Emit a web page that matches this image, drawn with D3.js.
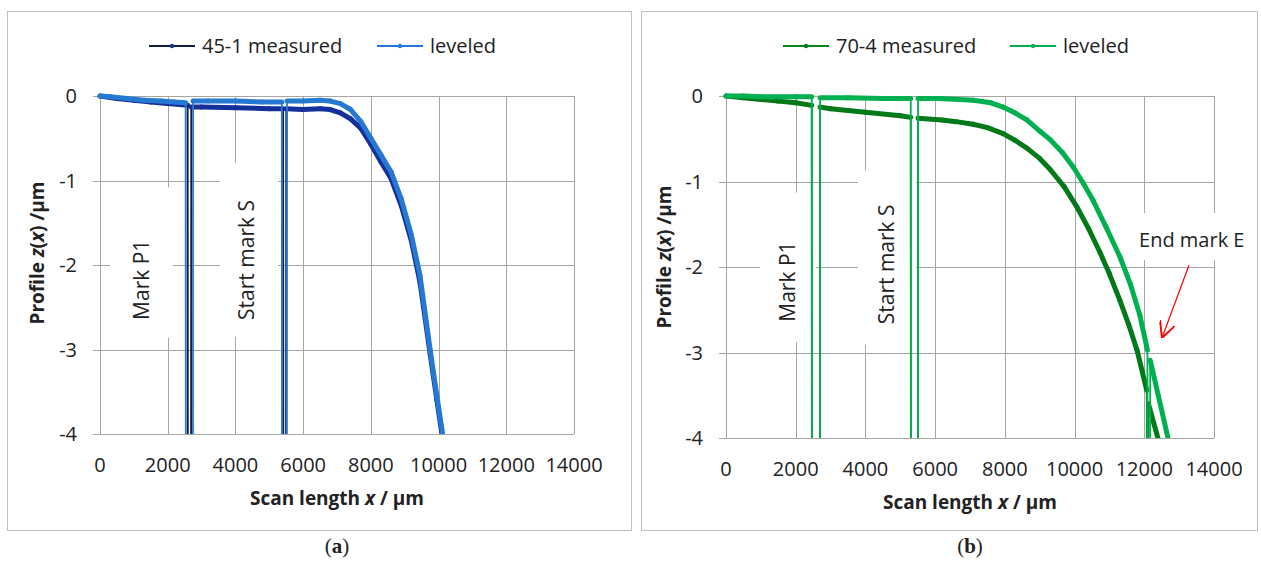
<!DOCTYPE html>
<html lang="en">
<head>
  <meta charset="UTF-8">
  <title>Profile scans</title>
  <script src="https://cdn.jsdelivr.net/npm/d3@7"></script>
  <style>
    body { margin: 0; background: #fff; }
    svg text { font-family: "Open Sans", sans-serif; fill: #222; }
  </style>
</head>
<body>
<script>
// axis ticks
const xTicks = [0, 2000, 4000, 6000, 8000, 10000, 12000, 14000];
const yTicks = [0, -1, -2, -3, -4];

// panel (a): sample 45-1, [x in um, z in um]
const measured451 = [[0,0],[500,-0.03],[1000,-0.05],[1500,-0.07],[2000,-0.09],[2590,-0.11],[2595,-4.6],[2690,-4.6],[2695,-0.13],
  [3000,-0.13],[4000,-0.14],[5000,-0.15],[5410,-0.15],[5415,-4.6],[5495,-4.6],[5500,-0.15],[6000,-0.16],[6500,-0.15],[6800,-0.16],
  [7100,-0.2],[7400,-0.27],[7700,-0.38],[8000,-0.57],[8300,-0.78],[8600,-0.98],[8900,-1.3],[9200,-1.72],[9450,-2.2],[9750,-3.05],
  [9950,-3.6],[10100,-4.0]];
const leveled451 = [[0,0],[300,-0.01],[800,-0.03],[1300,-0.05],[1800,-0.06],[2200,-0.07],[2530,-0.08],[2535,-4.6],[2745,-4.6],[2750,-0.06],
  [3200,-0.06],[4000,-0.06],[4800,-0.07],[5370,-0.07],[5375,-4.6],[5520,-4.6],[5525,-0.06],[6000,-0.06],[6500,-0.05],[6800,-0.06],
  [7100,-0.09],[7400,-0.16],[7700,-0.3],[8000,-0.5],[8300,-0.7],[8600,-0.9],[8900,-1.22],[9200,-1.65],[9450,-2.12],[9750,-3.0],
  [9950,-3.55],[10120,-4.0]];

// panel (b): sample 70-4
const measured704 = [[0,0],[500,-0.02],[1000,-0.04],[1500,-0.06],[2000,-0.08],[2460,-0.11],[2465,-4.6],[2695,-4.6],[2700,-0.13],
  [3000,-0.15],[4000,-0.19],[5000,-0.23],[5300,-0.25],[5305,-4.6],[5505,-4.6],[5510,-0.26],[6200,-0.28],[6600,-0.30],[7090,-0.33],
  [7500,-0.37],[7950,-0.44],[8300,-0.52],[8630,-0.61],[9000,-0.73],[9300,-0.86],[9700,-1.06],[10070,-1.3],[10400,-1.55],[10730,-1.83],
  [11000,-2.08],[11300,-2.39],[11550,-2.67],[11790,-2.97],[12070,-3.44],[12075,-4.6],[12115,-4.6],[12120,-3.6],[12390,-4.0]];
const leveled704 = [[0,0],[500,0],[1000,-0.01],[2000,-0.01],[2460,-0.01],[2465,-4.6],[2695,-4.6],[2700,-0.02],[3500,-0.02],
  [4500,-0.03],[5300,-0.03],[5305,-4.6],[5505,-4.6],[5510,-0.03],[6100,-0.03],[7100,-0.05],[7600,-0.08],[7950,-0.13],[8300,-0.2],
  [8630,-0.28],[9000,-0.41],[9300,-0.51],[9650,-0.66],[9960,-0.83],[10250,-1.02],[10530,-1.22],[10900,-1.53],[11300,-1.88],
  [11600,-2.2],[11870,-2.56],[12090,-2.97],[12095,-4.6],[12165,-4.6],[12170,-3.09],[12400,-3.5],[12680,-4.0]];

// text boxes: [label, text x, text bottom z, box x0, box x1, box z0, box z1]
const notesA = [["Mark P1", 1240, -2.65, 295, 2156, -1.08, -2.86], ["Start mark S", 4340, -2.65, 3544, 5257, -0.79, -2.85]];
const notesB = [["Mark P1", 1780, -2.64, 975, 2580, -1.13, -2.88], ["Start mark S", 4620, -2.67, 3787, 5450, -0.87, -2.91]];
const endMark = ["End mark E", 11850, -1.77, 11790, 15230, -1.37, -1.92];
const endArrow = [[13282, -1.98], [12507, -2.83]];

const svg = d3.select("body").append("svg").attr("width", 1261).attr("height", 579);

svg.append("defs").append("marker")
  .attr("id", "open").attr("viewBox", "0 0 10 10").attr("refX", 10).attr("refY", 5)
  .attr("markerWidth", 16).attr("markerHeight", 16).attr("markerUnits", "userSpaceOnUse").attr("orient", "auto")
  .append("path").attr("d", "M0,0L10,5L0,10").attr("fill", "none").attr("stroke", "#ff0000").attr("stroke-width", 1.2);

function drawPanel(p) {
  const g = svg.append("g");
  g.append("rect").attr("x", p.box[0] + 0.5).attr("y", p.box[1] + 0.5)
    .attr("width", p.box[2]).attr("height", p.box[3]).attr("fill", "#fff").attr("stroke", "#bfbfbf");

  const x = d3.scaleLinear().domain([0, 14000]).range(p.xr);
  const y = d3.scaleLinear().domain([-4, 0]).range(p.yr);

  // gridlines
  g.selectAll(".hg").data(yTicks).enter().append("line")
    .attr("x1", p.xr[0] - 7).attr("x2", p.xr[1]).attr("y1", d => Math.round(y(d)) + 0.5).attr("y2", d => Math.round(y(d)) + 0.5)
    .attr("stroke", "#a6a6a6");
  g.selectAll(".vg").data(xTicks).enter().append("line")
    .attr("x1", d => Math.round(x(d)) + 0.5).attr("x2", d => Math.round(x(d)) + 0.5).attr("y1", p.yr[1]).attr("y2", p.yr[0])
    .attr("stroke", "#a6a6a6");

  g.selectAll(".yl").data(yTicks).enter().append("text")
    .attr("x", p.xr[0] - 23).attr("y", d => y(d)).attr("dy", "0.35em").attr("text-anchor", "end")
    .attr("font-size", 20).text(d => d);
  g.selectAll(".xl").data(xTicks).enter().append("text")
    .attr("x", d => x(d)).attr("y", p.yr[0] + 38).attr("text-anchor", "middle")
    .attr("font-size", 20).text(d => d);

  // text boxes
  const notes = g.selectAll(".note").data(p.notes).enter().append("g");
  notes.append("rect").attr("fill", "#fff")
    .attr("x", d => x(d[3])).attr("width", d => x(d[4]) - x(d[3]))
    .attr("y", d => y(d[5])).attr("height", d => y(d[6]) - y(d[5]));
  notes.append("text").attr("font-size", 21)
    .attr("transform", d => `translate(${x(d[1])},${y(d[2])}) rotate(-90)`)
    .attr("dy", "0.35em").text(d => d[0]);

  // series drawn segment by segment: near-vertical jumps thin, dense parts thick
  const clipId = "clip" + p.id;
  g.append("clipPath").attr("id", clipId).append("rect")
    .attr("x", p.xr[0] - 5).attr("y", p.yr[1] - 10).attr("width", p.xr[1] - p.xr[0] + 10).attr("height", p.yr[0] - p.yr[1] + 10);
  const plot = g.append("g").attr("clip-path", `url(#${clipId})`);
  p.series.forEach(s => {
    const segs = d3.pairs(s.data);
    plot.append("g").selectAll("line").data(segs).enter().append("line")
      .attr("x1", d => x(d[0][0])).attr("y1", d => y(d[0][1]))
      .attr("x2", d => x(d[1][0])).attr("y2", d => y(d[1][1]))
      .attr("stroke-linecap", "round")
      .each(function(d) {
        const thin = Math.abs(x(d[1][0]) - x(d[0][0])) < 1.5;
        d3.select(this).attr("stroke", thin ? s.line : s.band).attr("stroke-width", thin ? 1.8 : 5);
      });
  });

  // legend
  const lg = g.append("g");
  p.series.forEach((s, i) => {
    const lx = p.legendX[i];
    lg.append("line").attr("x1", lx).attr("x2", lx + 46).attr("y1", 46).attr("y2", 46)
      .attr("stroke", s.line).attr("stroke-width", 2);
    lg.append("circle").attr("cx", lx + 23).attr("cy", 46).attr("r", 2.2).attr("fill", s.band);
    lg.append("text").attr("x", lx + 53).attr("y", 46).attr("dy", "0.35em").attr("font-size", 20).text(s.name);
  });

  // axis titles
  const xt = g.append("text").attr("x", (p.xr[0] + p.xr[1]) / 2).attr("y", p.yr[0] + 71)
    .attr("text-anchor", "middle").attr("font-size", 19).attr("font-weight", "bold");
  xt.append("tspan").text("Scan length ");
  xt.append("tspan").attr("font-style", "italic").text("x");
  xt.append("tspan").text(" / µm");
  const yt = g.append("text").attr("transform", `translate(${p.yTitleX},${p.yTitleY}) rotate(-90)`)
    .attr("text-anchor", "middle").attr("dy", "0.35em").attr("font-size", 19).attr("font-weight", "bold");
  yt.append("tspan").text("Profile ");
  yt.append("tspan").attr("font-style", "italic").text("z");
  yt.append("tspan").text("(");
  yt.append("tspan").attr("font-style", "italic").text("x");
  yt.append("tspan").text(") /µm");

  // caption
  const cap = svg.append("text").attr("x", (p.xr[0] + p.xr[1]) / 2).attr("y", 553).attr("text-anchor", "middle")
    .style("font-family", "'Liberation Serif', serif").attr("font-size", 21);
  cap.append("tspan").text("(");
  cap.append("tspan").attr("font-weight", "bold").text(p.caption);
  cap.append("tspan").text(")");

  return { g, x, y };
}

drawPanel({
  id: "a", box: [7, 11, 624, 519], xr: [100, 574], yr: [434, 96],
  notes: notesA, legendX: [149, 377], yTitleX: 37, yTitleY: 253, caption: "a",
  series: [
    { name: "45-1 measured", data: measured451, line: "#141c3c", band: "#15309a" },
    { name: "leveled", data: leveled451, line: "#2679d2", band: "#2679d2" }
  ]
});

const b = drawPanel({
  id: "b", box: [641, 11, 616, 519], xr: [726, 1214], yr: [438, 96],
  notes: notesB, legendX: [783, 1010], yTitleX: 664, yTitleY: 257, caption: "b",
  series: [
    { name: "70-4 measured", data: measured704, line: "#008a1e", band: "#007a18" },
    { name: "leveled", data: leveled704, line: "#00b050", band: "#00b050" }
  ]
});

// end mark annotation on panel (b)
b.g.append("rect").attr("fill", "#fff")
  .attr("x", b.x(endMark[3])).attr("width", b.x(endMark[4]) - b.x(endMark[3]))
  .attr("y", b.y(endMark[5])).attr("height", b.y(endMark[6]) - b.y(endMark[5]));
b.g.append("text").attr("x", b.x(endMark[1])).attr("y", b.y(endMark[2])).attr("font-size", 20).text(endMark[0]);
b.g.append("line")
  .attr("x1", b.x(endArrow[0][0])).attr("y1", b.y(endArrow[0][1]))
  .attr("x2", b.x(endArrow[1][0])).attr("y2", b.y(endArrow[1][1]))
  .attr("stroke", "#ff0000").attr("stroke-width", 1.2).attr("marker-end", "url(#open)");
</script>
</body>
</html>
